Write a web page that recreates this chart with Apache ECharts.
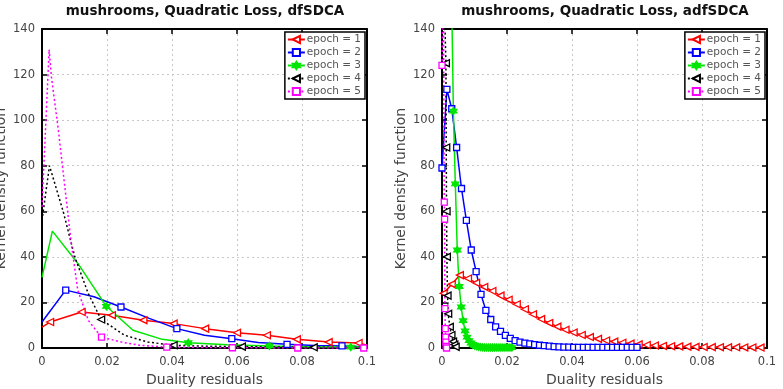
<!DOCTYPE html>
<html>
<head>
<meta charset="utf-8">
<script src="https://cdn.jsdelivr.net/npm/echarts@6/dist/echarts.min.js"></script>
<style>
html, body { margin: 0; padding: 0; background: #fff; }
#chart { width: 783px; height: 389px; }
</style>
</head>
<body>
<div id="chart"></div>
<script>
// legend names
var epochNames = ['epoch = 1', 'epoch = 2', 'epoch = 3', 'epoch = 4', 'epoch = 5'];
var panelTitles = ['mushrooms, Quadratic Loss, dfSDCA', 'mushrooms, Quadratic Loss, adfSDCA'];

// ---- left panel (dfSDCA) : x, y, indices that carry a marker
var dfX1 = [0, 0.0025, 0.0122, 0.0215, 0.0312, 0.0405, 0.0502, 0.0600, 0.0692, 0.0784, 0.0882, 0.0974, 0.1];
var dfY1 = [9.2, 11.4, 15.8, 14.4, 12.2, 10.7, 8.5, 6.7, 5.6, 3.8, 2.6, 2.2, 1.2];
var dfM1 = [1, 2, 3, 4, 5, 6, 7, 8, 9, 10, 11];

var dfX2 = [0, 0.0073, 0.016, 0.0243, 0.033, 0.0415, 0.050, 0.0584, 0.0665, 0.0754, 0.0838, 0.0923, 0.1];
var dfY2 = [11.4, 25.4, 22.5, 18.0, 13.0, 8.5, 5.6, 4.1, 2.4, 1.6, 1.1, 0.9, 0.6];
var dfM2 = [1, 3, 5, 7, 9, 11];

var dfX3 = [0, 0.0032, 0.0111, 0.0198, 0.028, 0.037, 0.045, 0.057, 0.070, 0.082, 0.095, 0.1];
var dfY3 = [31, 51.3, 37, 18.3, 7.8, 3.8, 2.3, 1.4, 0.9, 0.6, 0.4, 0.4];
var dfM3 = [3, 6, 8, 10];

var dfX4 = [0, 0.0023, 0.0065, 0.0101, 0.0142, 0.0182, 0.0254, 0.0326, 0.0405, 0.050, 0.0615, 0.073, 0.0836, 0.1];
var dfY4 = [56, 80, 60, 40, 24, 12.5, 5.6, 2.6, 1.2, 0.8, 0.6, 0.4, 0.3, 0.2];
var dfM4 = [5, 8, 10, 12];

var dfX5 = [0, 0.0022, 0.0029, 0.005, 0.007, 0.009, 0.011, 0.0143, 0.0183, 0.0244, 0.030, 0.0384, 0.0586, 0.0787, 0.099, 0.1];
var dfY5 = [62, 131, 119, 96, 71, 46, 25.4, 12, 4.8, 2.6, 1.2, 0.4, 0.1, 0, 0, 0];
var dfM5 = [8, 11, 12, 13, 14];

// ---- right panel (adfSDCA) : every point has a marker
var adX1 = [0.0005, 0.003, 0.0055, 0.008, 0.0105, 0.013, 0.0155, 0.018, 0.0205, 0.023,
            0.0255, 0.028, 0.0305, 0.033, 0.0355, 0.038, 0.0405, 0.043, 0.0455, 0.048,
            0.0505, 0.053, 0.0555, 0.058, 0.0605, 0.063, 0.0655, 0.068, 0.0705, 0.073,
            0.0755, 0.078, 0.0805, 0.083, 0.0855, 0.088, 0.0905, 0.093, 0.0955, 0.098];
var adY1 = [24, 28, 32, 30.5, 28.6, 26.8, 25, 23, 21.2, 19.2,
            17, 14.8, 12.7, 11, 9.4, 8, 6.8, 5.7, 4.8, 4,
            3.3, 2.8, 2.3, 1.9, 1.6, 1.3, 1.1, 0.9, 0.8, 0.7,
            0.6, 0.5, 0.45, 0.4, 0.35, 0.3, 0.3, 0.25, 0.25, 0.2];

var adX2 = [0, 0.0015, 0.003, 0.0045, 0.006, 0.0075, 0.009, 0.0105, 0.012, 0.0135,
            0.015, 0.0165, 0.018, 0.0195, 0.021, 0.0225, 0.024, 0.0255, 0.027, 0.0285,
            0.03, 0.0315, 0.033, 0.0345, 0.036, 0.0375, 0.039, 0.0405, 0.042, 0.0435,
            0.045, 0.0465, 0.048, 0.0495, 0.051, 0.0525, 0.054, 0.0555, 0.057, 0.0585, 0.06];
var adY2 = [79, 113.5, 105, 88, 70, 56, 43, 33.5, 23.5, 16.5,
            12.5, 9.3, 7.3, 5.5, 4.2, 3.2, 2.6, 2.1, 1.8, 1.5,
            1.2, 1.0, 0.8, 0.6, 0.5, 0.4, 0.35, 0.3, 0.3, 0.3,
            0.3, 0.3, 0.3, 0.3, 0.3, 0.3, 0.3, 0.3, 0.3, 0.3, 0.3];

var adX3 = [0.0029, 0.0035, 0.0041, 0.0047, 0.0053, 0.0059, 0.0065, 0.0071, 0.0077, 0.0083,
            0.0089, 0.0095, 0.0101, 0.0107, 0.0113, 0.0119, 0.0125, 0.0131, 0.0137, 0.0143,
            0.0149, 0.0155, 0.0161, 0.0167, 0.0173, 0.0179, 0.0185, 0.0191, 0.0197, 0.0203,
            0.0209, 0.0215];
var adY3 = [160, 104, 72, 43, 27, 18, 12, 7.5, 4.8, 3.2,
            2.2, 1.5, 1.0, 0.7, 0.5, 0.4, 0.3, 0.2, 0.2, 0.2,
            0.2, 0.2, 0.2, 0.2, 0.2, 0.2, 0.2, 0.2, 0.2, 0.2,
            0.2, 0.2];

var adX4 = [0.0004, 0.0012, 0.0013, 0.0014, 0.0015, 0.0017, 0.0019, 0.0024, 0.0029, 0.0034, 0.0038, 0.0042];
var adY4 = [170, 125, 88, 60, 40, 23, 15, 9.3, 5.7, 2.8, 1.5, 0.5];

var adX5 = [0, 0.0004, 0.0007, 0.0008, 0.0009, 0.001, 0.0011, 0.0012, 0.0013, 0.0014];
var adY5 = [124, 175, 64, 56.5, 17.3, 8.5, 4.8, 2.6, 0.7, 0];

var xTicks = { min: 0, max: 0.1, interval: 0.02 };
var yTicks = { min: 0, max: 140, interval: 20 };

var triLeft = 'path://M0,5L10,0L10,10Z';
var hexStar = 'path://M10,0L12.89,5L18.66,5L15.77,10L18.66,15L12.89,15L10,20L7.11,15L1.34,15L4.23,10L1.34,5L7.11,5Z';

var styles = [
  { color: '#ff0000', symbol: triLeft, dash: 'solid', fill: '#ffffff', size: 7 },
  { color: '#0000ff', symbol: 'rect', dash: 'solid', fill: '#ffffff', size: 6 },
  { color: '#00e600', symbol: hexStar, dash: 'solid', fill: '#00e600', size: 7 },
  { color: '#000000', symbol: triLeft, dash: [2, 2.5], fill: '#ffffff', size: 7 },
  { color: '#ff00ff', symbol: 'rect', dash: [2, 2.5], fill: '#ffffff', size: 6 }
];

var FONT = 'DejaVu Sans';

function pts(xs, ys, marks) {
  return xs.map(function (x, i) {
    var p = { value: [x, ys[i]] };
    if (marks && marks.indexOf(i) < 0) p.symbol = 'none';
    return p;
  });
}

function makeSeries(k, axis, data) {
  var st = styles[k];
  return {
    name: epochNames[k],
    type: 'line',
    xAxisIndex: axis,
    yAxisIndex: axis,
    data: data,
    symbol: st.symbol,
    symbolSize: st.size,
    lineStyle: { color: st.color, width: 1.5, type: st.dash },
    itemStyle: { color: st.fill, borderColor: st.color, borderWidth: 1.3 },
    emphasis: { disabled: true },
    clip: true
  };
}

function xAx(grid, pos) {
  var main = pos === 'bottom';
  return {
    type: 'value', gridIndex: grid, position: pos,
    min: xTicks.min, max: xTicks.max, interval: xTicks.interval,
    name: main ? 'Duality residuals' : '',
    nameLocation: 'middle', nameGap: 21,
    nameTextStyle: { fontFamily: FONT, fontSize: 14, color: '#444' },
    axisLine: { show: true, onZero: false, lineStyle: { color: '#000', width: 2 } },
    axisTick: { show: true, inside: true, length: 5, lineStyle: { color: '#000', width: 1.5 } },
    axisLabel: { show: main, margin: 8, fontFamily: FONT, fontSize: 11.5, color: '#444' },
    splitLine: { show: main, lineStyle: { color: '#c8c8c8', width: 1, type: [2, 3] } }
  };
}

function yAx(grid, pos) {
  var main = pos === 'left';
  return {
    type: 'value', gridIndex: grid, position: pos,
    min: yTicks.min, max: yTicks.max, interval: yTicks.interval,
    name: main ? 'Kernel density function' : '',
    nameLocation: 'middle', nameGap: 34,
    nameTextStyle: { fontFamily: FONT, fontSize: 14, color: '#444' },
    axisLine: { show: true, onZero: false, lineStyle: { color: '#000', width: 2 } },
    axisTick: { show: true, inside: true, length: 5, lineStyle: { color: '#000', width: 1.5 } },
    axisLabel: { show: main, margin: 7, fontFamily: FONT, fontSize: 11.5, color: '#444' },
    splitLine: { show: main, lineStyle: { color: '#c8c8c8', width: 1, type: [2, 3] } }
  };
}

function legendAt(right) {
  return {
    data: epochNames,
    orient: 'vertical',
    right: right, top: 32,
    itemWidth: 17, itemHeight: 9, itemGap: 2,
    padding: [2, 4, 2, 2],
    backgroundColor: '#fff',
    borderColor: '#000', borderWidth: 1.5,
    selectedMode: false,
    textStyle: { fontFamily: FONT, fontSize: 10.5, lineHeight: 11, color: '#555', padding: [0, 0, 0, -3] }
  };
}

var chart = echarts.init(document.getElementById('chart'));

var option = {
  animation: false,
  backgroundColor: '#fff',
  title: [
    { text: panelTitles[0], left: 205, top: 4, textAlign: 'center', padding: 0,
      textStyle: { fontFamily: FONT, fontSize: 13.5, fontWeight: 'bold', color: '#111' } },
    { text: panelTitles[1], left: 605, top: 4, textAlign: 'center', padding: 0,
      textStyle: { fontFamily: FONT, fontSize: 13.5, fontWeight: 'bold', color: '#111' } }
  ],
  legend: [legendAt(418), legendAt(18)],
  grid: [
    { left: 42, right: 416, top: 29, bottom: 41, outerBoundsMode: 'none' },
    { left: 442, right: 16, top: 29, bottom: 41, outerBoundsMode: 'none' }
  ],
  xAxis: [xAx(0, 'bottom'), xAx(0, 'top'), xAx(1, 'bottom'), xAx(1, 'top')],
  yAxis: [yAx(0, 'left'), yAx(0, 'right'), yAx(1, 'left'), yAx(1, 'right')],
  series: [
    makeSeries(0, 0, pts(dfX1, dfY1, dfM1)),
    makeSeries(1, 0, pts(dfX2, dfY2, dfM2)),
    makeSeries(2, 0, pts(dfX3, dfY3, dfM3)),
    makeSeries(3, 0, pts(dfX4, dfY4, dfM4)),
    makeSeries(4, 0, pts(dfX5, dfY5, dfM5)),
    makeSeries(0, 2, pts(adX1, adY1)),
    makeSeries(1, 2, pts(adX2, adY2)),
    makeSeries(2, 2, pts(adX3, adY3)),
    makeSeries(3, 2, pts(adX4, adY4)),
    makeSeries(4, 2, pts(adX5, adY5))
  ]
};

chart.setOption(option);
window.addEventListener('resize', function () { chart.resize(); });
</script>
</body>
</html>
